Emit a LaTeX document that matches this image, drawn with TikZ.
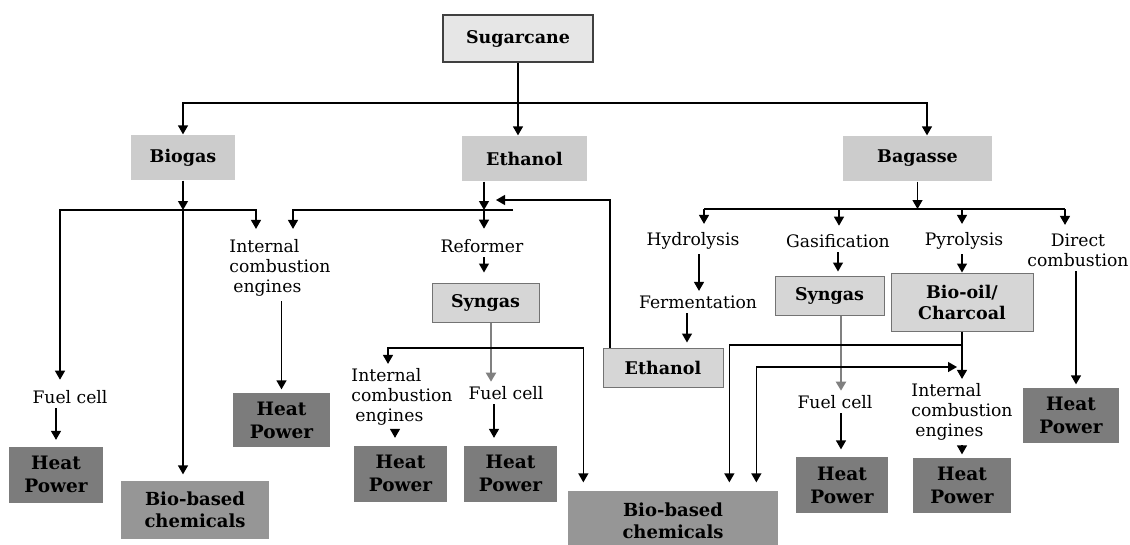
\documentclass[tikz,border=0pt]{standalone}
\usepackage{fontspec}
\setmainfont{DejaVu Serif}
\usepackage{xcolor}
\usetikzlibrary{arrows.meta}
\definecolor{canefill}{RGB}{230,230,230}
\definecolor{feedfill}{RGB}{204,204,204}
\definecolor{midfill}{RGB}{214,214,214}
\definecolor{heatfill}{RGB}{124,124,124}
\definecolor{chemfill}{RGB}{150,150,150}
\definecolor{edgegray}{RGB}{115,115,115}

\begin{document}
\begin{tikzpicture}[x=1pt,y=-1pt,
      topbox/.style={rectangle,draw=black!75,line width=1.8pt,fill=canefill,minimum width=150pt,minimum height=47pt,font=\fontsize{17.5}{21}\selectfont\bfseries},
      feedbox/.style={rectangle,fill=feedfill,minimum height=45pt,font=\fontsize{17.5}{21}\selectfont\bfseries},
      midbox/.style={rectangle,draw=edgegray,line width=1pt,fill=midfill,minimum height=39pt,align=center,font=\fontsize{17.5}{21}\selectfont\bfseries},
      heatbox/.style={rectangle,fill=heatfill,minimum width=94pt,minimum height=56pt,align=center,font=\fontsize{18.5}{23}\selectfont\bfseries},
      chembox/.style={rectangle,fill=chemfill,minimum height=58pt,align=center,font=\fontsize{18}{22}\selectfont\bfseries},
      lbl/.style={align=center,inner xsep=1pt,inner ysep=4pt,font=\fontsize{17.2}{20}\selectfont},
      graywire/.style={draw=black!50,line width=2pt},
      >={Triangle[length=9pt,width=10pt]},line width=1.3pt
    ]
    \useasboundingbox (0,0) rectangle (1130,544);

    \node[topbox] (cane) at (518,38.5) {Sugarcane};
    \node[feedbox,minimum width=104pt] (biogas) at (183,157.5) {Biogas};
    \node[feedbox,minimum width=125pt] (eth) at (524.5,158.5) {Ethanol};
    \node[feedbox,minimum width=149pt] (bagasse) at (917.5,158.5) {Bagasse};

    \node[lbl] (fcA) at (70,397) {Fuel cell};
    \node[lbl,align=left] (iceA) at (280,268) {Internal\\combustion\\\hspace{4pt}engines};
    \node[lbl] (reformer) at (482,246) {Reformer};
    \node[midbox,minimum width=107pt] (synA) at (485.5,302.5) {Syngas};
    \node[lbl,align=left] (iceB) at (402,397) {Internal\\combustion\\\hspace{4pt}engines};
    \node[lbl] (fcB) at (506,393) {Fuel cell};

    \node[lbl] (hydro) at (693,241) {Hydrolysis};
    \node[lbl] (ferment) at (698,302) {Fermentation};
    \node[lbl] (gasif) at (838,241) {Gasification};
    \node[lbl] (pyro) at (964,241) {Pyrolysis};
    \node[lbl] (direct) at (1078,250) {Direct\\combustion};
    \node[midbox,minimum width=120pt] (ethB) at (663,367.5) {Ethanol};
    \node[midbox,minimum width=109pt] (synB) at (829.5,295.5) {Syngas};
    \node[midbox,minimum width=142pt,minimum height=58pt] (biooil) at (962,302) {Bio-oil/\\Charcoal};
    \node[lbl] (fcC) at (835,402) {Fuel cell};
    \node[lbl,align=left] (iceC) at (962,412) {Internal\\combustion\\\hspace{4pt}engines};

    \node[heatbox] (hpA) at (56,474.5) {Heat\\Power};
    \node[chembox,minimum width=148pt] (chemA) at (195,510) {Bio-based\\chemicals};
    \node[heatbox,minimum width=97pt,minimum height=54pt] (hpB) at (281.5,420) {Heat\\Power};
    \node[heatbox,minimum width=93pt] (hpC) at (400.5,473.5) {Heat\\Power};
    \node[heatbox,minimum width=93pt] (hpD) at (510.5,473.5) {Heat\\Power};
    \node[chembox,minimum width=210pt,minimum height=60pt] (chemB) at (673,521) {Bio-based\\chemicals};
    \node[heatbox,minimum width=92pt] (hpE) at (842,485) {Heat\\Power};
    \node[heatbox,minimum width=98pt,minimum height=55pt] (hpF) at (962,485.5) {Heat\\Power};
    \node[heatbox,minimum width=96pt,minimum height=55pt] (hpG) at (1071,415.5) {Heat\\Power};

    % sugarcane to the three feedstocks
    \coordinate (split) at (cane.south |- 0,103);
    \draw[->] (cane.south) -- (cane.south |- eth.north);
    \draw[->] (split) -| (biogas.north);
    \draw[->] (split) -| ([xshift=9.5pt]bagasse.north);

    % biogas
    \coordinate (bgj) at (biogas.south |- 0,210);
    \draw[->] (biogas.south) -- (bgj);
    \draw[->,shorten >=6pt] (bgj) -| ([xshift=-10pt]fcA.north);
    \draw[->,shorten >=6pt] (bgj) -| ([xshift=-24pt]iceA.north);
    \draw[->,shorten >=6pt] (bgj) -- (bgj |- chemA.north);
    \draw[->,shorten >=6pt] (fcA.south -| hpA) -- (hpA.north);
    \draw[->,shorten >=3pt] (iceA.south -| hpB) -- (hpB.north);

    % ethanol
    \coordinate (etj) at (484,210);
    \draw[->] (eth.south -| etj) -- (etj);
    \draw[->,shorten >=6pt] ([xshift=29pt]etj) -| ([xshift=13pt]iceA.north);
    \draw[->,shorten >=6pt] (etj) -- (etj |- reformer.north);
    \draw[->,shorten >=10pt] (reformer.south -| etj) -- (etj |- synA.north);
    \draw[->] ([xshift=-53pt]ethB.north) |- ([xshift=12pt]etj |- 0,200);

    % syngas from the reformer
    \coordinate (sgj) at (491,348);
    \draw[->,graywire] (synA.south -| sgj) -- (sgj |- fcB.north);
    \draw[->] (sgj) -| ([xshift=-14pt]iceB.north);
    \draw[->,shorten >=8pt] (sgj) -| ([xshift=16pt]chemB.north west);
    \draw[->,shorten >=7pt] ([xshift=-7pt]iceB.south) -- ([xshift=-7pt]iceB.south |- hpC.north);
    \draw[->,shorten >=7pt] ([xshift=-12pt]fcB.south) -- ([xshift=-12pt]fcB.south |- hpD.north);

    % bagasse
    \coordinate (bsj) at (bagasse.south |- 0,209);
    \draw[->] (bagasse.south) -- (bsj);
    \draw ([xshift=11pt]hydro.north |- bsj) -- ([xshift=-13pt]direct.north |- bsj);
    \foreach \n/\dx in {hydro/11,gasif/1,pyro/-2,direct/-13}
      \draw[->,shorten >=4pt] ([xshift=\dx pt]\n.north |- bsj) -- ([xshift=\dx pt]\n.north);
    \draw[->] ([xshift=6pt]hydro.south) -- ([xshift=6pt]hydro.south |- ferment.north);
    \draw[->,shorten >=5pt] ([xshift=-11pt]ferment.south) -- ([xshift=-11pt]ferment.south |- ethB.north);
    \draw[->,shorten >=4pt] (gasif.south) -- (gasif.south |- synB.north);
    \draw[->] ([xshift=-2pt]pyro.south) -- ([xshift=-2pt]pyro.south |- biooil.north);
    \draw[->,shorten >=3pt] ([xshift=-2pt]direct.south) -- ([xshift=-2pt]direct.south |- hpG.north);
    \draw[->,graywire] ([xshift=11.5pt]synB.south) -- ([xshift=6pt]fcC.north);
    \draw[->,shorten >=7pt] ([xshift=6pt]fcC.south) -- ([xshift=6pt]fcC.south |- hpE.north);
    \coordinate (boj) at (biooil.south |- 0,345);
    \draw[->] (biooil.south) -- (biooil.south |- iceC.north);
    \draw[->,shorten >=8pt] (boj) -| ([xshift=162pt]chemB.north west);
    \draw[<->,shorten <=8pt] ([xshift=189pt]chemB.north west) |- ([xshift=-5pt]boj |- 0,367);
    \draw[->,shorten >=3pt] (iceC.south -| hpF) -- (hpF.north);
  \end{tikzpicture}
\end{document}
